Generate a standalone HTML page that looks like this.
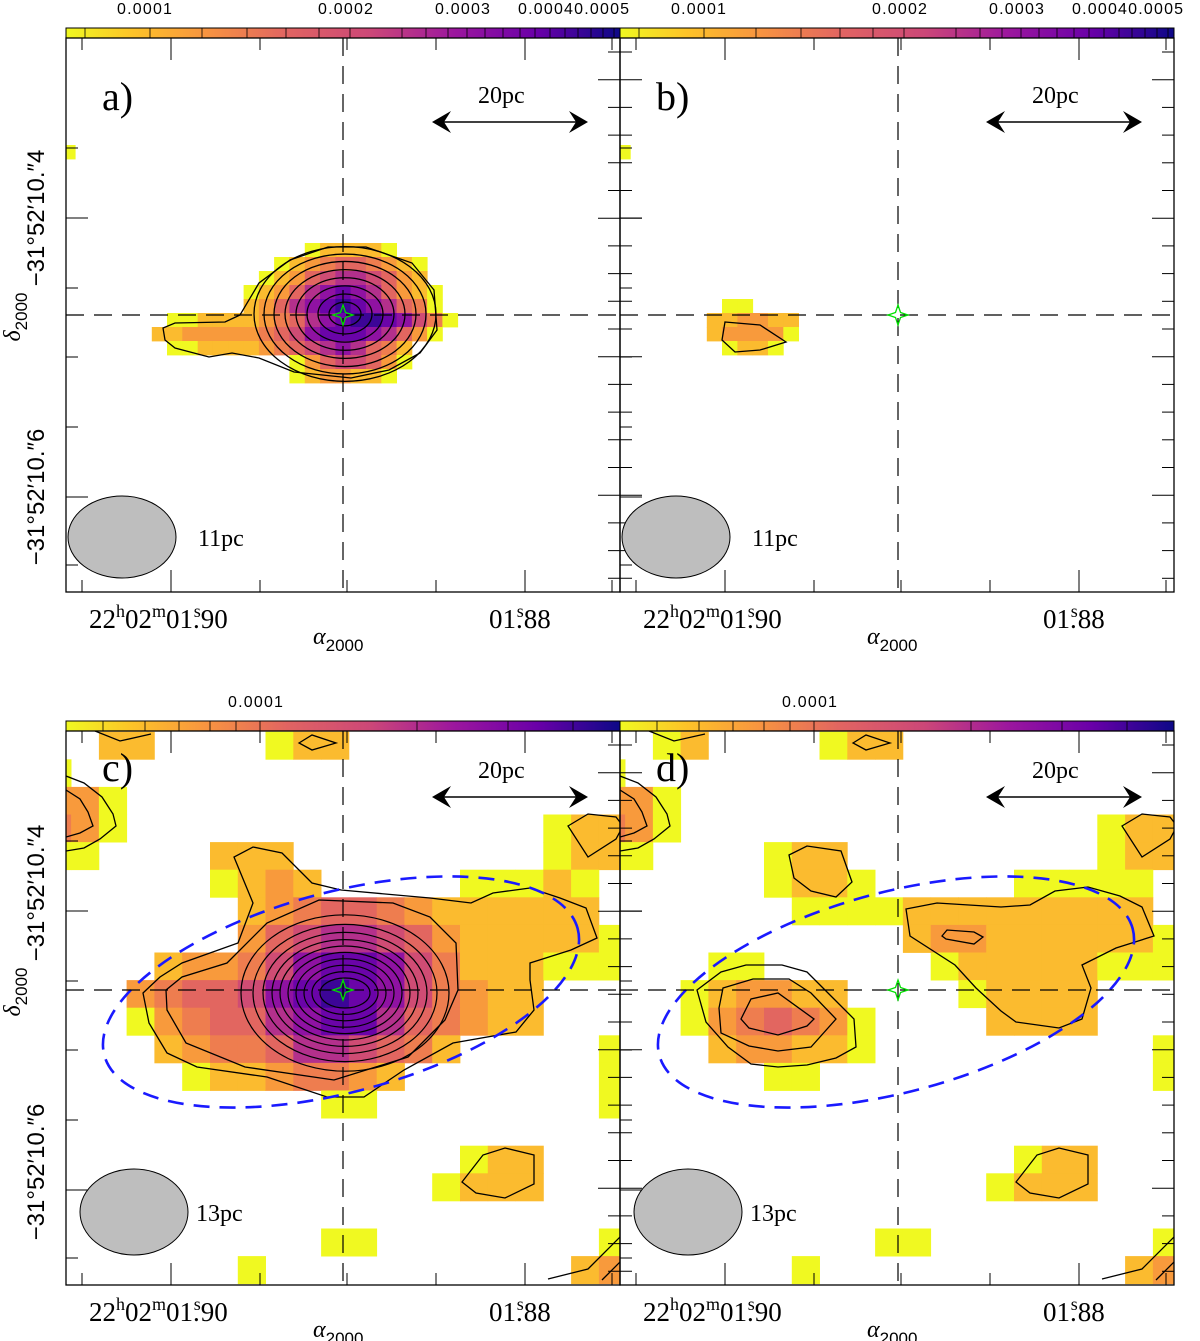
<!DOCTYPE html>
<html><head><meta charset="utf-8"><style>
html,body{margin:0;padding:0;background:#fff;}
svg{display:block;}
text{font-family:"Liberation Serif",serif;}
.sans{font-family:"Liberation Sans",sans-serif;}
</style></head><body>
<svg id="fig" width="1200" height="1341" viewBox="0 0 1200 1341" xmlns="http://www.w3.org/2000/svg">
<defs>
<linearGradient id="cmap" x1="0" x2="1" y1="0" y2="0">
<stop offset="0" stop-color="#f0f921"/><stop offset="0.12" stop-color="#fdc328"/><stop offset="0.25" stop-color="#f89540"/><stop offset="0.4" stop-color="#e16462"/><stop offset="0.55" stop-color="#cc4778"/><stop offset="0.7" stop-color="#9c179e"/><stop offset="0.85" stop-color="#6a00a8"/><stop offset="1" stop-color="#0d0887"/>
</linearGradient>
<clipPath id="clipA"><rect x="66" y="38" width="554" height="554"/></clipPath>
<clipPath id="clipB"><rect x="620" y="38" width="554" height="554"/></clipPath>
<clipPath id="clipC"><rect x="66" y="731" width="554" height="554"/></clipPath>
<clipPath id="clipD"><rect x="620" y="731" width="554" height="554"/></clipPath>
</defs>
</svg>
<script>
// ---- data ----
const levelColors = {"1":"#f0f921","2":"#fbbb2f","3":"#f89a3c","4":"#ee7d4f","5":"#e26660","6":"#cf4c74","7":"#b3308c","8":"#8f12a2","9":"#6a04a8","A":"#3c0597"};
// panel a/b rows: [row, startCol, levels]
const gridA = [[-12,-18,"1"],[-5,-2,"122221"],[-4,-4,"1234554321"],[-3,-5,"12356776532"],[-2,-6,"1235789875321"],[-1,-6,"235789A987541"],[0,-11,"112222345789AA98641"],[1,-12,"2233333456899987531"],[2,-11,"1122223456787542"],[3,-3,"13566531"],[4,-3,"1233221"]];
const gridB = [[-12,-18,"1"],[-1,-11,"11"],[0,-12,"223322"],[1,-12,"233331"],[2,-11,"1221"]];
// panel c/d rows: [row, startCol, levels]
const gridC = [[1,2,"22"],[1,8,"122"],[2,0,"1"],[3,0,"331"],[4,0,"431"],[4,18,"122"],[5,0,"11"],[5,6,"222"],[5,18,"122"],[6,6,"1232"],[6,15,"11121"],[7,7,"2345543222222"],[8,7,"35677653222221"],[9,4,"23346899864222111"],[10,3,"3455689A9864322"],[11,3,"134557899754322"],[12,4,"23445776542"],[12,20,"1"],[13,5,"12234432"],[13,20,"1"],[14,10,"11"],[14,20,"1"],[16,15,"122"],[17,14,"1222"],[19,10,"11"],[19,20,"1"],[20,7,"1"],[20,19,"23"]];
const gridD = [[1,2,"12"],[1,8,"122"],[2,0,"1"],[3,0,"331"],[4,0,"431"],[4,18,"122"],[5,0,"11"],[5,6,"122"],[5,18,"122"],[6,6,"1221"],[6,15,"11111"],[7,7,"1111"],[7,11,"222222222"],[8,11,"2332222221"],[9,4,"11"],[9,12,"122222111"],[10,3,"123322"],[10,13,"12222"],[11,3,"1345431"],[11,14,"2222"],[12,4,"233221"],[12,20,"1"],[13,6,"11"],[13,20,"1"],[16,15,"122"],[17,14,"1222"],[19,10,"11"],[19,20,"1"],[20,7,"1"],[20,19,"23"]];
const contourRxA = [16,27,38,49,60,71,81,91];
const contourRxC = [25,33,41,49,57,65,73,82,92,104];
const cbarTicksTop = ["0.0001","0.0002","0.0003","0.00040.0005"];
const cbarTicksBot = ["0.0001"];

const NS="http://www.w3.org/2000/svg";
const svg=document.getElementById('fig');
function mk(tag,attrs,parent){const e=document.createElementNS(NS,tag);for(const k in attrs)e.setAttribute(k,attrs[k]);(parent||svg).appendChild(e);return e;}
function pts(a){return a.map(p=>p.join(',')).join(' ');}

function drawGridAB(grid,cx,cy,clip,name){
  const g=mk('g',{'clip-path':'url(#'+clip+')'});
  
  
  const w=15.3,h=14;
  grid.forEach(r=>{for(let i=0;i<r[2].length;i++){const c=r[2][i];if(c==='.')continue;
    const k=r[1]+i;
    const el=mk('rect',{x:(cx+(k-0.5)*w).toFixed(1),y:(cy+(r[0]-0.5)*h).toFixed(1),width:w+0.4,height:h+0.4,fill:levelColors[c]},g);
    
    }});
}
function drawGridCD(grid,x0,clip,name){
  const g=mk('g',{'clip-path':'url(#'+clip+')'});
  
  
  const w=27.78,h=27.6,y0=704.1;
  grid.forEach(r=>{for(let i=0;i<r[2].length;i++){const c=r[2][i];
    const k=r[1]+i;
    const el=mk('rect',{x:(x0+k*w).toFixed(1),y:(y0+r[0]*h).toFixed(1),width:w+0.4,height:h+0.4,fill:levelColors[c]},g);
    
    }});
}
drawGridAB(gridA,343,320,'clipA','heatmap-a');
drawGridAB(gridB,898,320,'clipB','heatmap-b');
drawGridCD(gridC,43.3,'clipC','heatmap-c');
drawGridCD(gridD,597.3,'clipD','heatmap-d');

function cpoly(p,clip,nm){const e=mk('polygon',{points:pts(p),fill:'none',stroke:'#000','stroke-width':1.3,'clip-path':'url(#'+clip+')'});}
function cline(p,clip,nm){const e=mk('polyline',{points:pts(p),fill:'none',stroke:'#000','stroke-width':1.3,'clip-path':'url(#'+clip+')'});}
contourRxA.forEach(rx=>{const e=mk('ellipse',{cx:345,cy:314,rx:rx,ry:rx*0.74,fill:'none',stroke:'#000','stroke-width':1.3});
  });
cpoly([[240,315],[225,322],[175,323],[163,328],[165,340],[175,348],[209,357],[232,353],[259,358],[294,372],[351,378],[389,370],[420,353],[437,330],[434,290],[412,263],[366,247],[328,247],[290,260],[259,283]],'clipA','contour-a-outer');
cpoly([[725,322],[760,325],[786,342],[760,350],[735,352],[722,340]],'clipB','contour-b');

contourRxC.forEach(rx=>{const e=mk('ellipse',{cx:345,cy:993,rx:rx,ry:rx*0.8-5,fill:'none',stroke:'#000','stroke-width':1.2});
  });
cpoly([[166,990],[182,977],[227,963],[267,923],[319,900],[393,903],[430,917],[456,943],[458,990],[445,1020],[408,1057],[334,1080],[245,1067],[186,1043],[167,1010]],'clipC','contour-c-2');
cpoly([[143,993],[160,977],[182,963],[238,943],[253,903],[234,857],[253,847],[282,853],[312,883],[341,890],[430,898],[471,903],[493,893],[530,888],[560,898],[586,908],[597,938],[571,950],[530,963],[530,980],[534,1010],[516,1032],[453,1043],[404,1070],[364,1097],[327,1097],[267,1077],[197,1067],[167,1053],[149,1023]],'clipC','contour-c-outer');
[[0,'clipC'],[554,'clipD']].forEach(([dx,cl])=>{
  const s=(a)=>a.map(p=>[p[0]+dx,p[1]]);
  cpoly(s([[299,743],[312,735],[336,743],[312,750]]),cl,'contour-top');
  cline(s([[95,731],[120,741],[151,734]]),cl,'contour-topleft');
  cline(s([[66,776],[84,783],[102,797],[113,814],[116,826],[100,839],[84,848],[66,851]]),cl,'contour-left-outer');
  cline(s([[66,790],[80,799],[88,812],[93,826],[80,833],[66,837]]),cl,'contour-left-inner');
  cpoly(s([[568,826],[588,814],[616,817],[623,826],[616,839],[588,857]]),cl,'contour-right-top');
  cpoly(s([[462,1182],[483,1155],[505,1148],[534,1155],[534,1184],[505,1198],[476,1193]]),cl,'contour-lower-right');
  cline(s([[548,1279],[588,1269],[626,1231]]),cl,'contour-corner');
  cline(s([[602,1280],[626,1256]]),cl,'contour-corner');
});
cpoly([[697,990],[721,972],[746,965],[782,965],[807,972],[836,1001],[854,1019],[856,1047],[836,1058],[807,1065],[778,1067],[751,1064],[728,1047],[706,1022]],'clipD','contour-d-left-outer');
cpoly([[723,988],[753,979],[789,979],[811,993],[836,1019],[811,1047],[778,1051],[749,1046],[721,1033],[719,1008]],'clipD','contour-d-left-mid');
cpoly([[741,1019],[751,999],[778,993],[814,1019],[807,1026],[778,1035],[749,1028]],'clipD','contour-d-left-inner');
cpoly([[789,855],[807,846],[841,851],[852,882],[836,897],[811,891],[794,878]],'clipD','contour-d-upper');
cpoly([[906,909],[937,903],[1001,907],[1030,905],[1055,891],[1088,887],[1120,896],[1142,907],[1154,936],[1116,948],[1082,965],[1091,988],[1082,1019],[1059,1028],[1016,1022],[1001,1011],[976,988],[955,965],[910,936]],'clipD','contour-d-right');
cpoly([[942,936],[947,930],[974,932],[983,937],[974,944],[946,939]],'clipD','contour-d-right-inner');

[[341,'c'],[896,'d']].forEach(([cx,n])=>{const e=mk('ellipse',{cx:cx,cy:992,rx:245,ry:100,transform:'rotate(-15 '+cx+' 992)',fill:'none',stroke:'#1a1aff','stroke-width':2.6,'stroke-dasharray':'16 10'});
  });

const panels=[{n:'a',x:66,y:38,cx:343,cy:315,cb:'top',beam:'11pc'},{n:'b',x:620,y:38,cx:898,cy:315,cb:'top',beam:'11pc'},{n:'c',x:66,y:731,cx:343,cy:990,cb:'bot',beam:'13pc'},{n:'d',x:620,y:731,cx:898,cy:990,cb:'bot',beam:'13pc'}];
panels.forEach(p=>{
  const g=mk('g',{});
  
  
  const dy=p.y-38, dx=p.x-66;
  const top=p.n<'c';
  mk('line',{x1:p.cx,y1:p.y,x2:p.cx,y2:p.y+554,stroke:'#000','stroke-width':1.2,'stroke-dasharray':'18 10'},g);
  mk('line',{x1:p.x,y1:p.cy,x2:p.x+554,y2:p.cy,stroke:'#000','stroke-width':1.2,'stroke-dasharray':'18 10'},g);
  const s=p.cx,t=p.cy,r=10,q=2.5;
  const st=mk('polygon',{points:pts([[s,t-r],[s+q,t-q],[s+r,t],[s+q,t+q],[s,t+r],[s-q,t+q],[s-r,t],[s-q,t-q]]),fill:'none',stroke:'#00e000','stroke-width':1.3},g);
  
  const cb=mk('rect',{x:p.x,y:p.y-10,width:554,height:10,fill:'url(#cmap)',stroke:'#000','stroke-width':1},g);
  
  const segs = p.cb==='top'?[85,150,202,247,286,319,350,402,426,448,467,485,503,520,535,550,565,578,591,603,614]:[103,145,179,210,236,260,417,508,573];
  segs.forEach(v=>mk('line',{x1:v+dx,y1:p.y-10,x2:v+dx,y2:p.y,stroke:'#000','stroke-width':0.8},g));
  const labs=p.cb==='top'?cbarTicksTop:cbarTicksBot;
  const lx=p.cb==='top'?[117,318,435,518]:[228];
  labs.forEach((l,i)=>{const tx=mk('text',{x:lx[i]+dx,y:p.y-24,'font-size':16,'letter-spacing':1.2,class:'sans'},g);tx.textContent=l;
    });
  mk('rect',{x:p.x,y:p.y,width:554,height:554,fill:'none',stroke:'#000','stroke-width':1.3},g);
  [82,171,260,347,436,525,612].forEach((v,i)=>{const L=(i===1||i===5)?22:12;
    mk('line',{x1:v+dx,y1:p.y+554,x2:v+dx,y2:p.y+554-L,stroke:'#000','stroke-width':1},g);
    mk('line',{x1:v+dx,y1:p.y,x2:v+dx,y2:p.y+L,stroke:'#000','stroke-width':1},g);});
  [148,218,288,357,427,497,565].forEach((v,i)=>{const L=(i===1||i===5)?22:12;
    mk('line',{x1:p.x,y1:v+dy,x2:p.x+L,y2:v+dy,stroke:'#000','stroke-width':1},g);});
  for(let k=0;k<20;k++){const v=52+27.7*k;if(v>590)break;const L=(k%5===1)?22:12;
    mk('line',{x1:p.x+554-L,y1:v+dy,x2:p.x+554+(p.n==='a'||p.n==='c'?L:0),y2:v+dy,stroke:'#000','stroke-width':1},g);}
  const pl=mk('text',{x:p.x+36,y:p.y+(top?72:50),'font-size':40},g);pl.textContent=p.n+')';
  
  const sb=mk('text',{x:p.x+412,y:p.y+(top?65:47),'font-size':24},g);sb.textContent='20pc';
  
  const ay=p.y+(top?84:66);
  mk('line',{x1:p.x+370,y1:ay,x2:p.x+518,y2:ay,stroke:'#000','stroke-width':1.5},g);
  mk('polygon',{points:pts([[p.x+366,ay],[p.x+385,ay-11],[p.x+378,ay],[p.x+385,ay+11]]),fill:'#000'},g);
  mk('polygon',{points:pts([[p.x+522,ay],[p.x+503,ay-11],[p.x+510,ay],[p.x+503,ay+11]]),fill:'#000'},g);
  const by=top?537:1212; const bx=top?122:134;
  const be=mk('ellipse',{cx:bx+dx,cy:by,rx:54,ry:top?41:43,fill:'#bebebe',stroke:'#000','stroke-width':1},g);
  
  const bt=mk('text',{x:(top?198:196)+dx,y:by+9,'font-size':24},g);bt.textContent=p.beam;
  
  const xl=mk('text',{x:p.x+23,y:p.y+590,'font-size':27},g);
  xl.innerHTML='22<tspan dy="-11" font-size="18">h</tspan><tspan dy="11">02</tspan><tspan dy="-11" font-size="18">m</tspan><tspan dy="11">01.</tspan><tspan dy="-11" font-size="18" dx="-6">s</tspan><tspan dy="11">90</tspan>';
  
  const xl2=mk('text',{x:p.x+423,y:p.y+590,'font-size':27},g);
  xl2.innerHTML='01.<tspan dy="-11" font-size="18" dx="-6">s</tspan><tspan dy="11">88</tspan>';
  
  const xt=mk('text',{x:p.x+247,y:p.y+606,'font-size':24,'font-style':'italic'},g);
  xt.innerHTML='α<tspan dy="7" font-size="17" font-style="normal" class="sans">2000</tspan>';
  
});
[[218,'−31°52′10.″4'],[497,'−31°52′10.″6'],[893,'−31°52′10.″4'],[1172,'−31°52′10.″6']].forEach(([y,s])=>{
  const t=mk('text',{x:0,y:0,'font-size':24,class:'sans','text-anchor':'middle',transform:'translate(44 '+y+') rotate(-90)'});t.textContent=s;
  });
[317,992].forEach(y=>{const t=mk('text',{x:0,y:0,'font-size':24,'text-anchor':'middle','font-style':'italic',transform:'translate(20 '+y+') rotate(-90)'});
  t.innerHTML='δ<tspan dy="7" font-size="17" font-style="normal" class="sans">2000</tspan>';
  });
</script>
</body></html>
